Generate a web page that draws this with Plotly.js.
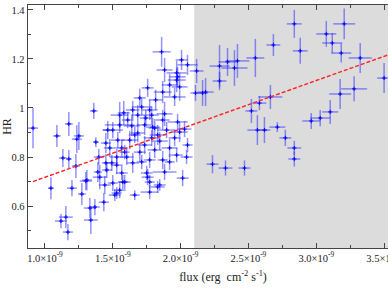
<!DOCTYPE html>
<html><head><meta charset="utf-8">
<script src="https://cdn.plot.ly/plotly-3.0.1.min.js"></script>
<style>html,body{margin:0;padding:0;overflow:hidden;background:#fff}#c{width:418px;height:300px}</style>
</head><body><div id="c"></div>
<script>
// flux in units of 1e-9 erg cm^-2 s^-1
const flux = [0.912,1.088,1.176,1.250,1.235,1.360,1.375,1.176,1.132,1.044,1.199,1.228,1.309,1.272,1.331,1.338,1.154,1.118,1.169,1.397,1.390,1.449,1.449,1.368,1.301,1.404,
1.860,2.051,1.971,1.978,2.118,1.971,1.993,1.868,1.956,1.713,1.772,1.647,1.581,1.551,1.684,1.787,1.882,1.978,1.868,1.551,1.640,1.735,1.794,1.500,1.831,1.684,1.897,2.029,1.993,2.051,1.971,1.868,1.787,1.647,1.882,2.015,1.757,1.772,1.750,1.831,1.772,1.662,1.551,1.515,1.441,1.456,1.574,1.493,1.434,1.529,1.603,1.529,1.566,1.500,1.588,1.529,1.846,2.044,2.110,1.846,1.735,1.625,1.566,1.699,1.809,1.919,1.610,1.699,1.816,1.757,1.919,1.809,1.662,1.537,1.478,1.588,1.772,1.919,1.956,1.713,1.463,1.743,2.007,1.882,
2.838,3.074,3.206,3.118,3.184,2.684,2.882,3.324,2.551,2.419,2.346,2.287,2.397,2.287,2.184,2.162,2.662,2.581,2.522,3.279,3.176,3.500,3.103,3.029,2.963,2.566,2.618,2.713,2.772,2.838,2.838,2.235,2.331,2.471];
const hr = [0.918,0.886,0.935,0.886,0.873,0.988,0.861,0.792,0.796,0.673,0.673,0.763,0.706,0.649,0.592,0.543,0.555,0.539,0.494,0.800,0.739,0.857,0.776,0.596,0.702,0.718,
1.229,1.176,1.143,1.127,1.151,1.114,1.086,1.065,1.045,1.004,0.992,0.992,0.980,0.971,0.971,0.971,0.976,0.943,0.951,0.931,0.927,0.931,0.922,0.910,0.890,0.898,0.910,0.914,0.902,0.849,0.808,0.788,0.878,0.776,0.739,0.714,0.718,0.698,0.735,0.678,0.657,0.645,0.665,0.645,0.686,0.747,0.698,0.776,0.616,0.800,0.800,0.767,0.735,0.694,0.698,0.653,0.686,0.800,1.061,0.865,0.849,0.869,0.837,0.820,0.829,0.837,0.951,1.041,1.033,1.082,1.094,0.918,0.890,0.869,0.837,0.820,0.788,0.780,0.878,0.780,0.910,0.959,1.196,1.155,
1.343,1.302,1.343,1.265,1.224,1.257,1.233,1.204,1.204,1.192,1.188,1.171,1.163,1.110,1.065,1.061,1.045,1.020,0.988,1.078,1.057,1.122,0.984,0.959,0.947,0.910,0.910,0.922,0.878,0.837,0.792,0.771,0.755,0.755];
const fluxErr = [0.037,0.029,0.029,0.037,0.037,0.029,0.022,0.022,0.029,0.022,0.037,0.029,0.037,0.029,0.044,0.051,0.051,0.044,0.037,0.037,0.029,0.037,0.029,0.037,0.044,0.051,
0.066,0.074,0.074,0.059,0.051,0.066,0.059,0.066,0.081,0.074,0.059,0.051,0.044,0.066,0.051,0.051,0.059,0.074,0.051,0.110,0.059,0.059,0.051,0.074,0.059,0.051,0.066,0.051,0.059,0.037,0.044,0.037,0.059,0.044,0.088,0.044,0.044,0.037,0.044,0.051,0.066,0.037,0.044,0.044,0.044,0.037,0.037,0.044,0.037,0.051,0.051,0.044,0.044,0.037,0.044,0.037,0.044,0.044,0.037,0.059,0.051,0.059,0.044,0.044,0.051,0.059,0.044,0.044,0.051,0.044,0.059,0.044,0.044,0.051,0.044,0.037,0.044,0.037,0.044,0.037,0.037,0.044,0.044,0.059,
0.055,0.074,0.081,0.074,0.074,0.051,0.055,0.085,0.066,0.088,0.066,0.074,0.096,0.051,0.059,0.037,0.088,0.051,0.044,0.096,0.081,0.051,0.059,0.074,0.066,0.074,0.044,0.059,0.044,0.051,0.044,0.044,0.051,0.044];
const hrErr = [0.082,0.045,0.049,0.057,0.057,0.033,0.020,0.037,0.037,0.045,0.033,0.049,0.041,0.045,0.041,0.057,0.045,0.029,0.033,0.033,0.041,0.041,0.037,0.033,0.037,0.049,
0.061,0.041,0.049,0.041,0.049,0.049,0.057,0.045,0.037,0.033,0.041,0.037,0.049,0.053,0.041,0.037,0.049,0.033,0.041,0.033,0.041,0.041,0.037,0.033,0.041,0.037,0.033,0.033,0.041,0.029,0.029,0.037,0.033,0.041,0.033,0.033,0.033,0.029,0.029,0.024,0.029,0.020,0.033,0.024,0.037,0.033,0.029,0.033,0.037,0.033,0.033,0.037,0.029,0.033,0.029,0.024,0.024,0.029,0.033,0.037,0.037,0.037,0.033,0.037,0.033,0.037,0.033,0.037,0.041,0.037,0.045,0.037,0.033,0.033,0.037,0.029,0.033,0.033,0.033,0.029,0.037,0.033,0.041,0.049,
0.057,0.053,0.063,0.041,0.039,0.045,0.053,0.061,0.078,0.069,0.057,0.086,0.073,0.037,0.057,0.053,0.049,0.029,0.049,0.051,0.061,0.061,0.049,0.033,0.033,0.061,0.053,0.020,0.033,0.029,0.031,0.037,0.031,0.031];
// fitted relation
const fitFlux = [0.912, 3.75];
const fitHR = [0.70, 1.26];
// shaded high-flux interval
const shadeStart = 2.1;
const shadeEnd = 3.75;
const xTickVals = [1.0,1.5,2.0,2.5,3.0,3.5];
const xTickText = ["1.0×10<sup>-9</sup>","1.5×10<sup>-9</sup>","2.0×10<sup>-9</sup>","2.5×10<sup>-9</sup>","3.0×10<sup>-9</sup>","3.5×10<sup>-9</sup>"];
const xMinor = [1.25,1.75,2.25,2.75,3.25];
const yTickVals = [0.6,0.8,1.0,1.2,1.4];
const yTickText = ["0.6","0.8","1","1.2","1.4"];
const yMinor = [0.5,0.7,0.9,1.1,1.3];

const font = {family:"Liberation Serif, Times New Roman, serif", color:"#222"};
const axCommon = {showline:true, linecolor:"#444", linewidth:1.3, mirror:"allticks", ticks:"inside", ticklen:5, tickcolor:"#444", tickwidth:1, showgrid:false, zeroline:false, tickfont:{...font,size:10.5}};

const traces = [
 {type:"scatter", mode:"markers", x:flux, y:hr,
  marker:{symbol:"cross-thin-open", size:3, line:{color:"rgba(0,0,200,0.85)", width:1}, color:"blue"},
  error_x:{type:"data", array:fluxErr, color:"rgba(40,40,255,0.5)", thickness:1.5, width:0},
  error_y:{type:"data", array:hrErr, color:"rgba(40,40,255,0.5)", thickness:1.5, width:0},
  hoverinfo:"skip"},
 {type:"scatter", mode:"lines", x:fitFlux, y:fitHR, line:{color:"#ff2020", width:1.4, dash:"4px,2px"}, hoverinfo:"skip"}
];
const layout = {
 width:418, height:300, margin:{l:28, r:0, t:5, b:52},
 showlegend:false, paper_bgcolor:"#fff", plot_bgcolor:"#fff", font:font,
 xaxis:{...axCommon, range:[0.875,3.75], tickmode:"array", tickvals:xTickVals, ticktext:xTickText,
   minor:{tickmode:"array", tickvals:xMinor, ticks:"inside", ticklen:3, tickcolor:"#444"},
   title:{text:"flux (erg  cm<sup>-2</sup> s<sup>-1</sup>)", font:{...font,size:12}, standoff:9}},
 yaxis:{...axCommon, range:[0.429,1.42], tickmode:"array", tickvals:yTickVals, ticktext:yTickText,
   minor:{tickmode:"array", tickvals:yMinor, ticks:"inside", ticklen:3, tickcolor:"#444"},
   title:{text:"HR", font:{...font,size:12}, standoff:2}},
 shapes:[{type:"rect", xref:"x", yref:"paper", x0:shadeStart, x1:shadeEnd, y0:0, y1:1, fillcolor:"#dcdcdc", line:{width:0}, layer:"below"}]
};
Plotly.newPlot("c", traces, layout, {staticPlot:true, displayModeBar:false});
</script></body></html>
